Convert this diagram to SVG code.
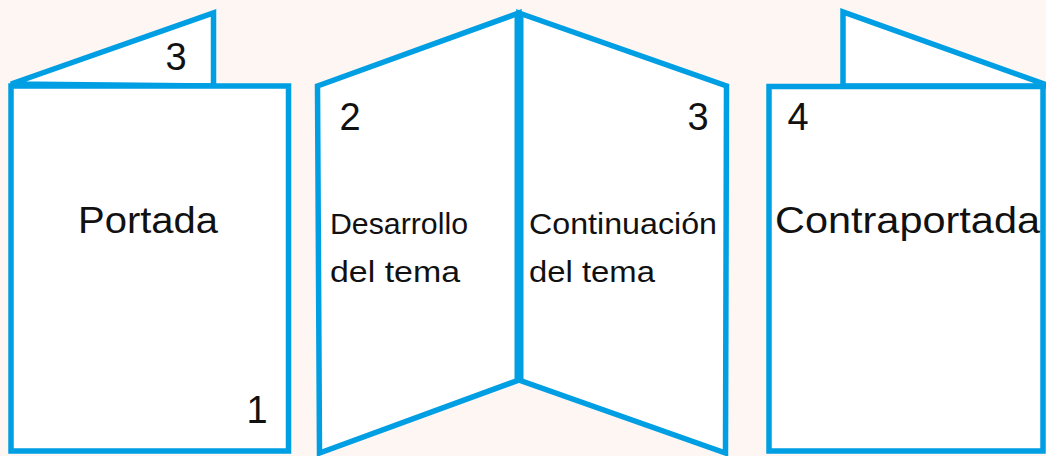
<svg xmlns="http://www.w3.org/2000/svg" width="1046" height="456" viewBox="0 0 1046 456">
<style>
.ln{fill:#ffffff;stroke:#009fe3;stroke-width:5.5;stroke-linejoin:miter}
.t{font-family:"Liberation Sans",Arial,sans-serif;fill:#111111}
</style>
<rect x="0" y="0" width="1046" height="456" fill="#fdf6f3"/>
<g id="portada">
<polygon class="ln" points="11,84 213.5,13 213.5,86"/>
<rect class="ln" x="11" y="86" width="277.5" height="365"/>
<text class="t" x="176" y="70" font-size="38" text-anchor="middle">3</text>
<text class="t" x="148" y="233" font-size="37" text-anchor="middle" textLength="140" lengthAdjust="spacingAndGlyphs">Portada</text>
<text class="t" x="257" y="423" font-size="38" text-anchor="middle">1</text>
</g>
<g id="interior">
<polygon class="ln" points="317.5,86 519,13 519,380 319.5,453"/>
<polygon class="ln" points="519,13 726.5,86 725.5,453 519,380"/>
<line x1="519" y1="14" x2="519" y2="380" stroke="#009fe3" stroke-width="9"/>
<text class="t" x="350" y="130" font-size="38" text-anchor="middle">2</text>
<text class="t" x="698" y="130" font-size="38" text-anchor="middle">3</text>
<text class="t" x="330" y="234" font-size="30" textLength="138" lengthAdjust="spacingAndGlyphs">Desarrollo</text>
<text class="t" x="330" y="282" font-size="30" textLength="130" lengthAdjust="spacingAndGlyphs">del tema</text>
<text class="t" x="529" y="234" font-size="30" textLength="188" lengthAdjust="spacingAndGlyphs">Continuación</text>
<text class="t" x="529" y="282" font-size="30" textLength="126" lengthAdjust="spacingAndGlyphs">del tema</text>
</g>
<g id="contraportada">
<polygon class="ln" points="843,86 843,12 1050,86"/>
<rect class="ln" x="769" y="86.5" width="274" height="364.5"/>
<text class="t" x="798" y="130" font-size="38" text-anchor="middle">4</text>
<text class="t" x="775" y="233" font-size="37" textLength="265" lengthAdjust="spacingAndGlyphs">Contraportada</text>
</g>
</svg>
